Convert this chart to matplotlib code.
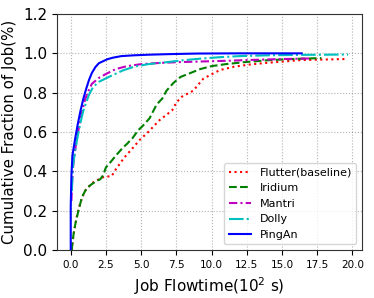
import matplotlib
matplotlib.use("Agg")
import matplotlib.pyplot as plt

# job flowtime in units of 10^2 s, cumulative fraction of jobs
flutter_x = [0.07, 0.2, 0.43, 0.68, 1.0, 1.5, 2.0, 2.4, 2.9, 3.2, 3.8, 4.3, 4.9, 5.5, 6.3,
             7.2, 7.5, 7.9, 8.7, 9.4, 9.9, 10.6, 11.6, 12.8, 14.0, 16.4, 19.5]
flutter_y = [0, 0.08, 0.17, 0.24, 0.3, 0.34, 0.36, 0.373, 0.375, 0.41, 0.47, 0.51, 0.56, 0.6, 0.66,
             0.71, 0.75, 0.78, 0.81, 0.87, 0.89, 0.915, 0.932, 0.944, 0.952, 0.966, 0.971]

iridium_x = [0.07, 0.2, 0.35, 0.55, 0.8, 1.1, 1.4, 1.8, 2.1, 2.3, 2.5, 2.75, 3.2, 3.7, 4.0, 4.4,
             4.8, 5.1, 5.6, 6.1, 6.5, 6.8, 7.3, 7.8, 8.5, 9.2, 10.0, 11.0, 12.3, 14.0, 16.0, 17.8]
iridium_y = [0, 0.08, 0.14, 0.2, 0.27, 0.31, 0.33, 0.35, 0.36, 0.38, 0.42, 0.44, 0.48, 0.52, 0.54, 0.57,
             0.61, 0.63, 0.67, 0.74, 0.77, 0.81, 0.85, 0.88, 0.9, 0.92, 0.935, 0.945, 0.955, 0.965, 0.972, 0.976]

mantri_x = [0.05, 0.1, 0.2, 0.4, 0.6, 0.8, 1.0, 1.2, 1.5, 2.0, 2.5, 3.2, 4.0, 5.0, 6.0, 7.5, 9.0,
            11, 13, 15, 17.1]
mantri_y = [0.25, 0.35, 0.45, 0.55, 0.63, 0.7, 0.76, 0.8, 0.845, 0.875, 0.895, 0.92, 0.935, 0.945,
            0.95, 0.955, 0.958, 0.962, 0.967, 0.971, 0.974]

dolly_x = [0.08, 0.15, 0.3, 0.5, 0.7, 0.9, 1.1, 1.3, 1.6, 2.0, 2.5, 3.0, 3.7, 4.5, 5.5, 6.8, 8,
           9.2, 10.5, 12, 14, 16, 18, 19.7]
dolly_y = [0.3, 0.42, 0.5, 0.58, 0.65, 0.71, 0.75, 0.79, 0.83, 0.855, 0.873, 0.89, 0.913, 0.932,
           0.945, 0.955, 0.965, 0.973, 0.98, 0.986, 0.99, 0.992, 0.993, 0.994]

pingan_x = [0, 0, 0.05, 0.12, 0.3, 0.5, 0.7, 0.9, 1.1, 1.3, 1.5, 1.75, 2.0, 2.3, 2.6, 3.0, 3.6,
            4.5, 5.5, 7.0, 9.0, 12.0, 16.4]
pingan_y = [0, 0.22, 0.38, 0.48, 0.56, 0.64, 0.71, 0.77, 0.82, 0.865, 0.9, 0.93, 0.95, 0.96, 0.97,
            0.978, 0.986, 0.99, 0.993, 0.996, 0.999, 1.0, 1.0]

fig = plt.figure(figsize=(3.74, 2.98), dpi=100)
ax = fig.add_axes([0.152, 0.161, 0.816, 0.792])

ax.plot(flutter_x, flutter_y, color='red', linestyle=':', linewidth=1.5, label='Flutter(baseline)')
ax.plot(iridium_x, iridium_y, color='green', linestyle='--', linewidth=1.5, label='Iridium')
ax.plot(mantri_x, mantri_y, color='m', linestyle=(0, (4, 1.5, 1, 1.5)), linewidth=1.5, label='Mantri')
ax.plot(dolly_x, dolly_y, color='c', linestyle=(0, (7, 1.5, 1, 1.5)), linewidth=1.5, label='Dolly')
ax.plot(pingan_x, pingan_y, color='blue', linestyle='-', linewidth=1.5, label='PingAn')

ax.set_ylim(0, 1.2)
ax.set_xticks([0, 2.5, 5, 7.5, 10, 12.5, 15, 17.5, 20])
ax.tick_params(axis='x', labelsize=7.5)
ax.tick_params(axis='y', labelsize=11)
ax.grid(True, linestyle=':', color='gray', linewidth=0.8, alpha=0.6)
for s in ax.spines.values():
    s.set_color('#333333')

ax.set_xlabel(r'Job Flowtime($10^2$ s)', fontsize=11)
ax.set_ylabel('Cumulative Fraction of Job(%)', fontsize=10.8)
ax.legend(loc='lower right', fontsize=8)

fig.savefig('out.png', dpi=100)
